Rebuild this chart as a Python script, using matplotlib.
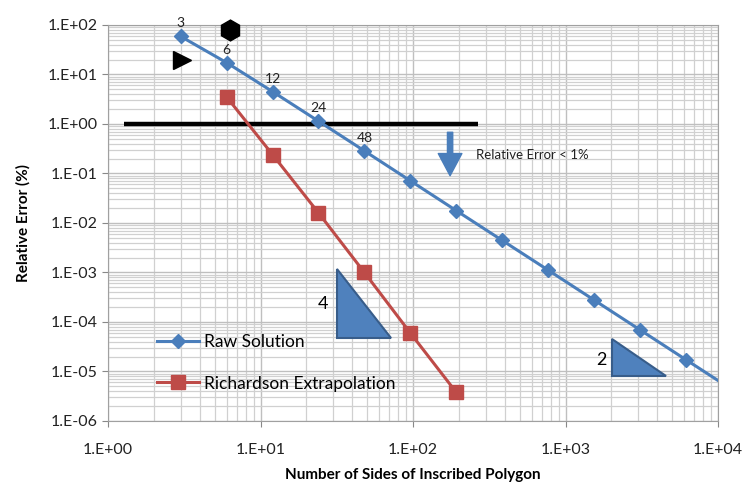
import numpy as np
import matplotlib.pyplot as plt
from matplotlib.ticker import FuncFormatter, LogLocator

# data
raw_sides = [3, 6, 12, 24, 48, 96, 192, 384, 768, 1536, 3072, 6144, 12288]
raw_error = [58.7, 17.3, 4.51, 1.14, 0.286, 0.0714, 0.0178, 0.00446,
             0.00112, 0.000279, 0.0000697, 0.0000174, 0.00000436]
rich_sides = [6, 12, 24, 48, 96, 192]
rich_error = [3.5, 0.24, 0.016, 0.001, 0.00006, 0.0000038]
point_labels = ['3', '6', '12', '24', '48']

blue = '#4A7EBB'
red = '#BE4B48'
plt.rcParams['font.family'] = ['Lato', 'DejaVu Sans']

fig = plt.figure(figsize=(7.47, 4.88), dpi=100)
ax = fig.add_axes([0.1446, 0.1373, 0.8166, 0.8115])

ax.plot(raw_sides, raw_error, color=blue, lw=2.2, marker='D', ms=7,
        label='Raw Solution', zorder=4)
ax.plot(rich_sides, rich_error, color=red, lw=2.2, marker='s', ms=10,
        label='Richardson Extrapolation', zorder=4)

for n, e, t in zip(raw_sides, raw_error, point_labels):
    ax.annotate(t, (n, e), xytext=(0, 5), textcoords='offset points',
                ha='center', va='bottom', fontsize=10, color='#222222',
                annotation_clip=False)

ax.set_xscale('log')
ax.set_yscale('log')
ax.set_xlim(1, 1e4)
ax.set_ylim(1e-6, 1e2)

ax.xaxis.set_major_locator(LogLocator(base=10, numticks=10))
ax.yaxis.set_major_locator(LogLocator(base=10, numticks=20))
ax.xaxis.set_minor_locator(LogLocator(base=10, subs=np.arange(2, 10), numticks=20))
ax.yaxis.set_minor_locator(LogLocator(base=10, subs=np.arange(2, 10), numticks=20))
fmt = FuncFormatter(lambda v, p: '1.E%+03d' % int(round(np.log10(v))))
ax.xaxis.set_major_formatter(fmt)
ax.yaxis.set_major_formatter(fmt)
ax.tick_params(which='major', labelsize=11.5, length=4, color='#888888',
               labelcolor='#222222')
ax.tick_params(which='minor', length=0)
ax.tick_params(axis='x', pad=12)

ax.grid(True, which='major', color='#BFBFBF', lw=1.0, zorder=0)
ax.grid(True, which='minor', color='#D0D0D0', lw=0.9, zorder=0)
for s in ax.spines.values():
    s.set_color('#A0A0A0')

ax.set_xlabel('Number of Sides of Inscribed Polygon', fontsize=11,
              fontweight='bold', labelpad=8)
ax.set_ylabel('Relative Error (%)', fontsize=11, fontweight='bold', labelpad=12)

# 1% threshold line, arrow and note
ax.plot([1.27, 268], [1, 1], color='black', lw=3.2, zorder=3,
        solid_capstyle='butt')
ax.annotate('', xy=(175, 0.09), xytext=(175, 0.68),
            arrowprops=dict(width=3.8, headwidth=17, headlength=16,
                            facecolor=blue, edgecolor=blue), zorder=3)
ax.text(258, 0.24, 'Relative Error < 1%', fontsize=9.5, va='center',
        color='#222222')

# black markers
ax.plot(6.35, 79, marker='h', ms=15, color='black', clip_on=False, zorder=5)
ax.plot(3.05, 19.6, marker='>', ms=13, color='black', zorder=5)

# slope triangles
tri4_x = [31.6, 31.6, 71.7]
tri4_y = [1.17e-3, 4.75e-5, 4.75e-5]
tri2_x = [2009, 2009, 4548]
tri2_y = [4.54e-5, 8.1e-6, 8.1e-6]
for tx, ty in ((tri4_x, tri4_y), (tri2_x, tri2_y)):
    ax.fill(tx, ty, facecolor='#4F81BD', edgecolor='#385D8A', lw=1.5, zorder=3)
ax.text(25.6, 2.3e-4, '4', fontsize=13, ha='center', va='center')
ax.text(1726, 1.7e-5, '2', fontsize=13, ha='center', va='center')

ax.legend(loc='lower left', bbox_to_anchor=(0.055, 0.035), frameon=False,
          fontsize=12.5, labelspacing=1.45, handlelength=2.4, handletextpad=0.3)

fig.savefig('out.png', dpi=100)
